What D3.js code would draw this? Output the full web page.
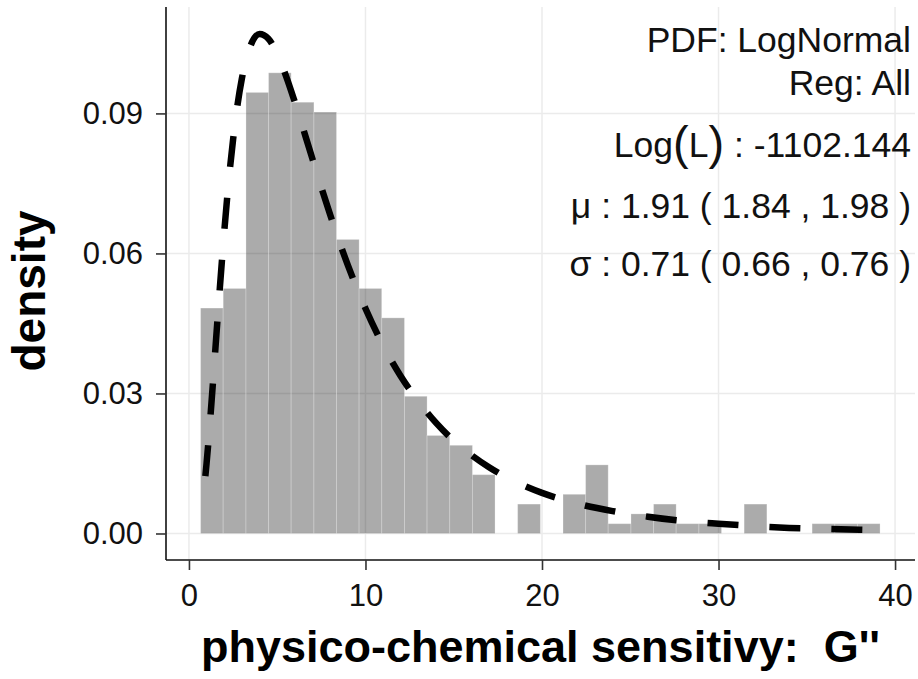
<!DOCTYPE html>
<html>
<head>
<meta charset="utf-8">
<script src="https://cdn.jsdelivr.net/npm/d3@7"></script>
<style>
  body { margin: 0; background: #fff; }
  svg text { font-family: "Liberation Sans", Arial, sans-serif; white-space: pre; }
</style>
</head>
<body>
<svg class="hist" width="918" height="679"></svg>
<script>
// histogram bins (left/right edges) and their densities
const binEdges = [0.66, 1.94, 3.23, 4.51, 5.79, 7.08, 8.36, 9.64, 10.92, 12.21, 13.49,
  14.77, 16.06, 17.34, 18.62, 19.91, 21.19, 22.47, 23.75, 25.04, 26.32,
  27.60, 28.89, 30.17, 31.45, 32.74, 34.02, 35.30, 36.59, 37.87, 39.15]
const density = [0.0483, 0.0525, 0.0945, 0.0987, 0.0924, 0.0903, 0.0630, 0.0525, 0.0462, 0.0294,
  0.0210, 0.0189, 0.0126, 0, 0.0063, 0, 0.0084, 0.0147, 0.0021, 0.0042,
  0.0063, 0.0021, 0.0021, 0, 0.0063, 0, 0, 0.0021, 0.0021, 0.0021]

// fitted lognormal curve
const fitX = [0.93, 1.0, 1.25, 1.5, 1.75, 2.0, 2.25, 2.5, 2.75, 3.0, 3.5, 4.0, 4.5, 5.0, 5.5, 6,
  7, 8, 9, 10, 11, 12, 13, 14, 15, 16, 17, 18, 19, 20, 22, 24, 26, 28, 30, 32, 34, 36, 38, 39.15]
const fitY = [0.0123, 0.0151, 0.0267, 0.0397, 0.0526, 0.0647, 0.0754, 0.0844, 0.0918, 0.0975,
  0.1046, 0.1070, 0.1060, 0.1027, 0.0980, 0.0924, 0.0802, 0.0683, 0.0575, 0.0482, 0.0403,
  0.0337, 0.0283, 0.0237, 0.0199, 0.0168, 0.0142, 0.0120, 0.0102, 0.0087, 0.0064, 0.0048,
  0.0036, 0.0027, 0.0021, 0.0016, 0.0012, 0.0010, 0.0008, 0.0007]

const xTicks = [0, 10, 20, 30, 40]
const yTicks = [0, 0.03, 0.06, 0.09]

const headerLines = ['PDF: LogNormal', 'Reg: All']
const logL = '-1102.144'
const paramLines = ['\u03bc : 1.91 ( 1.84 , 1.98 )', '\u03c3 : 0.71 ( 0.66 , 0.76 )']

const panel = { left: 166, right: 915, top: 7, bottom: 560 }

const svg = d3.select('svg.hist')

const xScale = d3.scaleLinear().domain([-1.30, 41.13]).range([panel.left, panel.right])
const yScale = d3.scaleLinear().domain([-0.00568, 0.1128]).range([panel.bottom, panel.top])

// grid lines
const grid = svg.append('g')
grid.selectAll('line.gx')
  .data(xTicks)
  .enter()
  .append('line')
  .attr('x1', d => xScale(d)).attr('x2', d => xScale(d))
  .attr('y1', panel.top).attr('y2', panel.bottom)
  .attr('stroke', '#ebebeb').attr('stroke-width', 1.5)
grid.selectAll('line.gy')
  .data(yTicks)
  .enter()
  .append('line')
  .attr('x1', panel.left).attr('x2', panel.right)
  .attr('y1', d => yScale(d)).attr('y2', d => yScale(d))
  .attr('stroke', '#ebebeb').attr('stroke-width', 1.5)

// bars
const bins = density.map((d, i) => ({ x0: binEdges[i], x1: binEdges[i + 1], d }))
svg.append('g')
  .selectAll('rect')
  .data(bins.filter(b => b.d > 0))
  .enter()
  .append('rect')
  .attr('x', b => xScale(b.x0))
  .attr('y', b => yScale(b.d))
  .attr('width', b => xScale(b.x1) - xScale(b.x0))
  .attr('height', b => yScale(0) - yScale(b.d))
  .attr('fill', '#000').attr('fill-opacity', 0.33)
  .attr('stroke', '#fff').attr('stroke-opacity', 0.25).attr('stroke-width', 1)

// fitted curve
const line = d3.line()
  .x(i => xScale(fitX[i]))
  .y(i => yScale(fitY[i]))
  .curve(d3.curveMonotoneX)
svg.append('path')
  .attr('d', line(d3.range(fitX.length)))
  .attr('fill', 'none')
  .attr('stroke', '#000')
  .attr('stroke-width', 6.5)
  .attr('stroke-dasharray', '31,31')

// axes
const xAxis = svg.append('g')
  .attr('transform', `translate(0, ${panel.bottom})`)
  .call(d3.axisBottom(xScale).tickValues(xTicks).tickSize(10).tickSizeOuter(0).tickPadding(14))
const yAxis = svg.append('g')
  .attr('transform', `translate(${panel.left}, 0)`)
  .call(d3.axisLeft(yScale).tickValues(yTicks).tickFormat(d3.format('.2f')).tickSize(10).tickSizeOuter(0).tickPadding(13))

;[xAxis, yAxis].forEach(a => {
  a.select('.domain').attr('stroke', '#111').attr('stroke-width', 1.6)
  a.selectAll('.tick line').attr('stroke', '#333').attr('stroke-width', 1.6)
  a.selectAll('.tick text')
    .attr('fill', '#111')
    .style('font-size', '31px')
    .style('font-family', '"Liberation Sans", Arial, sans-serif')
})
// the domain path draws both axis lines
xAxis.select('.domain').attr('d', `M${panel.left},0H${panel.right}`)
yAxis.select('.domain').attr('d', `M0,${panel.top}V${panel.bottom}`)

// axis titles
svg.append('text')
  .attr('x', (panel.left + panel.right) / 2)
  .attr('y', 662)
  .attr('text-anchor', 'middle')
  .style('font-size', '45px')
  .style('font-weight', 'bold')
  .text('physico-chemical sensitivy:  G\'\'')

svg.append('text')
  .attr('transform', `translate(45, 291) rotate(-90)`)
  .attr('text-anchor', 'middle')
  .style('font-size', '46px')
  .style('font-weight', 'bold')
  .text('density')

// fit annotation
const note = svg.append('g').attr('fill', '#111').style('font-size', '35.5px')
note.selectAll('text.head')
  .data(headerLines)
  .enter()
  .append('text')
  .attr('x', 911)
  .attr('y', (d, i) => 52 + i * 43)
  .attr('text-anchor', 'end')
  .text(d => d)

const ll = note.append('text')
  .attr('x', 911)
  .attr('y', 157)
  .attr('text-anchor', 'end')
ll.append('tspan').text('Log')
ll.append('tspan').style('font-size', '47px').attr('dy', 2).text('(')
ll.append('tspan').attr('dy', -2).text('L')
ll.append('tspan').style('font-size', '47px').attr('dy', 2).text(')')
ll.append('tspan').attr('dy', -2).text(' : ' + logL)

note.selectAll('text.param')
  .data(paramLines)
  .enter()
  .append('text')
  .attr('x', 911)
  .attr('y', (d, i) => 218 + i * 58)
  .attr('text-anchor', 'end')
  .text(d => d)
</script>
</body>
</html>
